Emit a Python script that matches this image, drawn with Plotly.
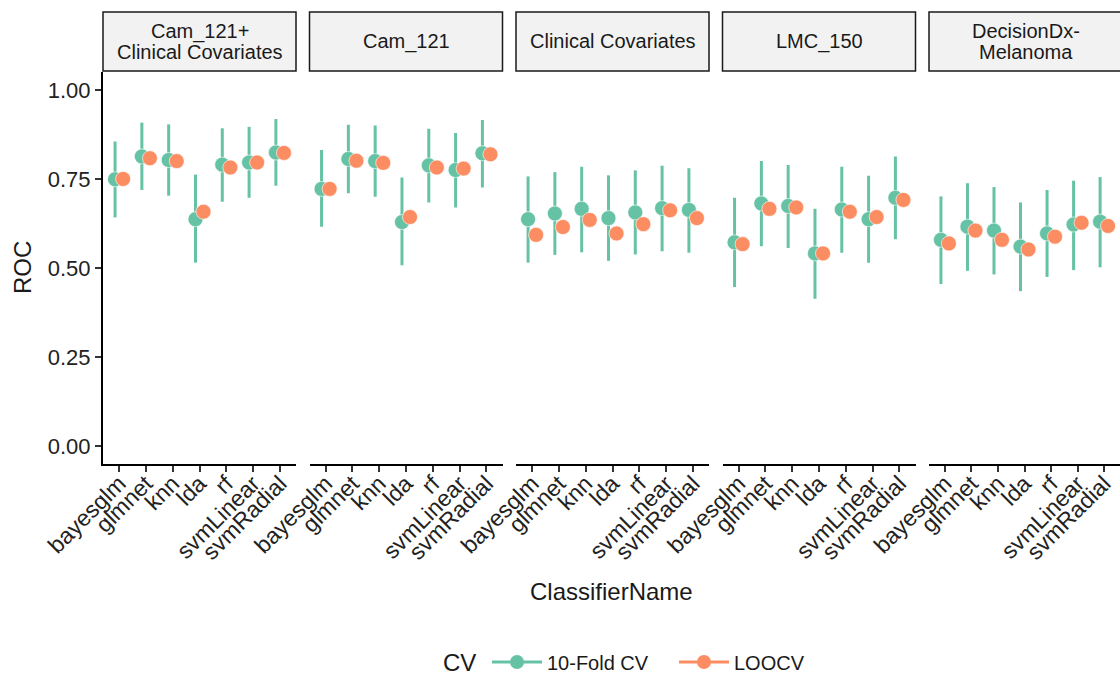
import plotly.graph_objects as go

classifiers = ["bayesglm", "glmnet", "knn", "lda", "rf", "svmLinear", "svmRadial"]
panels = [["Cam_121+", "Clinical Covariates"], ["Cam_121"], ["Clinical Covariates"], ["LMC_150"], ["DecisionDx-", "Melanoma"]]

# 10-Fold CV: mean, lower, upper
cv10_mean = [
    [0.749, 0.813, 0.803, 0.637, 0.790, 0.796, 0.824],
    [0.722, 0.806, 0.800, 0.629, 0.788, 0.775, 0.822],
    [0.637, 0.653, 0.666, 0.640, 0.656, 0.668, 0.663],
    [0.572, 0.681, 0.674, 0.541, 0.664, 0.637, 0.697],
    [0.579, 0.616, 0.605, 0.560, 0.597, 0.622, 0.630],
]
cv10_low = [
    [0.642, 0.719, 0.703, 0.515, 0.686, 0.697, 0.731],
    [0.616, 0.710, 0.700, 0.508, 0.684, 0.670, 0.726],
    [0.515, 0.537, 0.544, 0.520, 0.538, 0.547, 0.543],
    [0.447, 0.561, 0.556, 0.414, 0.543, 0.515, 0.581],
    [0.455, 0.492, 0.482, 0.435, 0.475, 0.494, 0.502],
]
cv10_high = [
    [0.855, 0.908, 0.903, 0.762, 0.892, 0.896, 0.918],
    [0.831, 0.902, 0.900, 0.754, 0.891, 0.879, 0.915],
    [0.757, 0.769, 0.784, 0.760, 0.774, 0.787, 0.780],
    [0.697, 0.800, 0.789, 0.666, 0.784, 0.759, 0.813],
    [0.701, 0.738, 0.727, 0.684, 0.719, 0.745, 0.755],
]
loocv_mean = [
    [0.750, 0.808, 0.800, 0.658, 0.782, 0.796, 0.823],
    [0.722, 0.801, 0.795, 0.643, 0.782, 0.779, 0.819],
    [0.593, 0.615, 0.635, 0.597, 0.623, 0.662, 0.640],
    [0.567, 0.666, 0.670, 0.541, 0.658, 0.643, 0.691],
    [0.569, 0.605, 0.579, 0.552, 0.588, 0.627, 0.618],
]

GREEN = "#66C2A5"
ORANGE = "#FC8D62"
W, H = 1120, 675
FONT = "Liberation Sans, Arial, sans-serif"

panel_px = [(103, 296), (309.5, 502.5), (516, 709), (722.5, 915.5), (929, 1122)]
plot_top, plot_bot = 72, 464
strip_top, strip_bot = 12, 71

def px_x(v):
    return v / W

def px_y(v):
    return 1 - v / H

fig = go.Figure()
dodge = 0.15
xpos = list(range(1, len(classifiers) + 1))

for p in range(len(panels)):
    xa = "x" if p == 0 else f"x{p+1}"
    up = [h - m for h, m in zip(cv10_high[p], cv10_mean[p])]
    dn = [m - l for m, l in zip(cv10_mean[p], cv10_low[p])]
    fig.add_trace(go.Scatter(
        x=[i - dodge for i in xpos], y=cv10_mean[p], mode="markers",
        marker=dict(color=GREEN, size=15, line=dict(color="white", width=0.6)),
        error_y=dict(type="data", symmetric=False, array=up, arrayminus=dn,
                     color=GREEN, thickness=3, width=0),
        xaxis=xa, yaxis="y", showlegend=False, name="10-Fold CV"))
    fig.add_trace(go.Scatter(
        x=[i + dodge for i in xpos], y=loocv_mean[p], mode="markers",
        marker=dict(color=ORANGE, size=15, line=dict(color="white", width=0.6)),
        xaxis=xa, yaxis="y", showlegend=False, name="LOOCV"))

# legend entries
for name, col in [("10-Fold CV", GREEN), ("LOOCV", ORANGE)]:
    fig.add_trace(go.Scatter(x=[None], y=[None], mode="lines+markers", name=name,
                             marker=dict(color=col, size=14), line=dict(color=col, width=3),
                             xaxis="x", yaxis="y"))

layout = dict(
    width=W, height=H, margin=dict(l=0, r=0, t=0, b=0, autoexpand=False),
    paper_bgcolor="white", plot_bgcolor="white",
    font=dict(family=FONT, color="#1a1a1a"),
    showlegend=True,
    legend=dict(orientation="h", x=px_x(487), xanchor="left", y=px_y(662), yanchor="middle",
                font=dict(size=20, color="#1a1a1a"), itemwidth=50, tracegroupgap=0,
                entrywidth=122, entrywidthmode="pixels",
                bgcolor="rgba(0,0,0,0)"),
    yaxis=dict(domain=[px_y(plot_bot), px_y(plot_top)], range=[-0.05, 1.05],
               anchor="x", tickvals=[0, 0.25, 0.5, 0.75, 1.0],
               ticktext=["0.00", "0.25", "0.50", "0.75", "1.00"], automargin=False,
               showgrid=False, zeroline=False, showline=True, linecolor="black", linewidth=2,
               ticks="outside", ticklen=6, tickwidth=1.5, tickcolor="#333",
               tickfont=dict(size=22, color="#222", family=FONT)),
)
for p in range(len(panels)):
    key = "xaxis" if p == 0 else f"xaxis{p+1}"
    x0, x1 = panel_px[p]
    layout[key] = dict(domain=[px_x(x0), min(px_x(x1), 1.0)], range=[0.4, 7.6],
                       anchor="y", tickvals=xpos, ticktext=classifiers, tickangle=-45,
                       automargin=False, ticklabelstandoff=-11,
                       showgrid=False, zeroline=False, showline=True, linecolor="black", linewidth=2,
                       ticks="outside", ticklen=6, tickwidth=1.5, tickcolor="#333",
                       tickfont=dict(size=23, color="#222", family=FONT))
fig.update_layout(**layout)

shapes = []
annotations = []
for p, lines in enumerate(panels):
    x0, x1 = panel_px[p]
    shapes.append(dict(type="rect", xref="paper", yref="paper",
                       x0=px_x(x0), x1=px_x(x1), y0=px_y(strip_bot), y1=px_y(strip_top),
                       fillcolor="#F2F2F2", line=dict(color="#1a1a1a", width=1.5)))
    mid = (strip_top + strip_bot) / 2
    n = len(lines)
    for k, lab in enumerate(lines):
        yc = mid + (k - (n - 1) / 2) * 20
        annotations.append(dict(text=lab, xref="paper", yref="paper",
                                x=px_x((x0 + x1) / 2), y=px_y(yc),
                                showarrow=False, xanchor="center", yanchor="middle",
                                font=dict(size=20, color="#1a1a1a", family=FONT)))
annotations.append(dict(text="ClassifierName", xref="paper", yref="paper",
                        x=px_x(612), y=px_y(591), showarrow=False, xanchor="center", yanchor="middle",
                        font=dict(size=24, color="#1a1a1a", family=FONT)))
annotations.append(dict(text="ROC", xref="paper", yref="paper",
                        x=px_x(22), y=px_y((plot_top + plot_bot) / 2), showarrow=False, textangle=-90,
                        xanchor="center", yanchor="middle",
                        font=dict(size=24, color="#1a1a1a", family=FONT)))
annotations.append(dict(text="CV", xref="paper", yref="paper",
                        x=px_x(459), y=px_y(662), showarrow=False, xanchor="center", yanchor="middle",
                        font=dict(size=24, color="#1a1a1a", family=FONT)))
fig.update_layout(shapes=shapes, annotations=annotations)

fig.write_html("out.html", config={"displayModeBar": False})

# remove the browser's default page margin so the figure sits at the window origin
with open("out.html", "r", encoding="utf-8") as f:
    html = f.read()
html = html.replace("<head>", "<head><style>html,body{margin:0;padding:0;overflow:hidden;}</style>", 1)
with open("out.html", "w", encoding="utf-8") as f:
    f.write(html)
